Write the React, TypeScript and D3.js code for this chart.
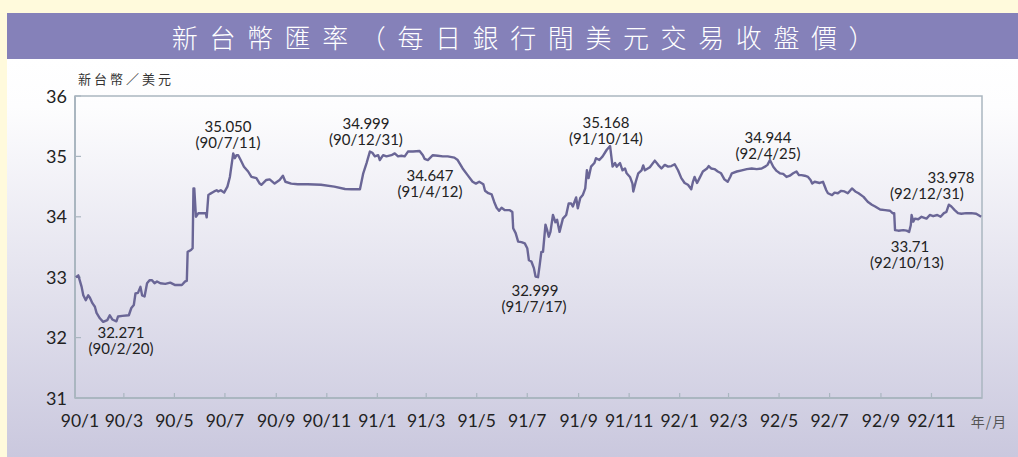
import React from 'react';
import * as d3 from 'd3';

const W = 1018;
const H = 457;

// ROC year 90 = 2001, 91 = 2002, 92 = 2003
const days90 = ["01-02","01-05","01-09","01-11","01-14","01-17","01-19","01-22","01-25","01-27","01-31","02-04","02-09","02-12","02-15","02-20","02-22","02-27","03-07","03-10","03-13","03-15","03-18","03-21","03-23","03-26","03-29","04-01","04-04","04-07","04-10","04-14","04-20","04-26","05-02","05-10","05-14","05-16","05-17","05-21","05-23","05-24","05-25","05-27","05-30","06-05","06-08","06-09","06-11","06-13","06-18","06-21","06-23","06-26","06-30","07-04","07-07","07-11","07-13","07-15","07-17","07-20","07-24","07-29","08-02","08-08","08-12","08-14","08-20","08-24","08-30","09-05","09-09","09-12","09-19","09-27","10-09","10-25","11-10","11-23","12-01","12-11","12-15","12-19","12-23","12-26","12-29"];
const rates90 = [33.00,33.03,32.84,32.70,32.62,32.70,32.66,32.57,32.51,32.41,32.32,32.26,32.29,32.37,32.30,32.27,32.35,32.36,32.37,32.49,32.54,32.73,32.74,32.84,32.70,32.68,32.90,32.95,32.95,32.90,32.93,32.90,32.89,32.91,32.87,32.87,32.93,32.94,33.42,33.45,33.48,34.47,34.47,34.00,34.06,34.06,34.06,33.99,34.36,34.38,34.42,34.44,34.42,34.44,34.40,34.50,34.66,35.05,34.97,35.02,35.02,34.94,34.83,34.75,34.66,34.64,34.55,34.53,34.61,34.62,34.55,34.61,34.68,34.58,34.55,34.54,34.54,34.53,34.50,34.46,34.455,34.455,34.72,34.89,35.08,35.06,35.00];

const days91 = ["01-02","01-04","01-08","01-12","01-18","01-22","01-26","01-30","02-03","02-07","02-13","02-21","02-25","02-27","03-03","03-09","03-15","03-21","03-27","04-04","04-08","04-14","04-20","04-26","04-30","05-04","05-09","05-11","05-15","05-19","05-22","05-25","05-28","05-31","06-04","06-10","06-13","06-14","06-17","06-20","06-24","06-28","07-01","07-03","07-06","07-09","07-11","07-14","07-16","07-18","07-20","07-23","07-25","07-27","07-29","08-01","08-04","08-06","08-09","08-13","08-17","08-20","08-23","08-25","08-29","08-31","09-03","09-06","09-09","09-11","09-13","09-16","09-20","09-22","09-26","09-30","10-05","10-09","10-12","10-15","10-17","10-21","10-24","10-27","10-29","11-02","11-05","11-06","11-09","11-12","11-16","11-18","11-20","11-26","12-02","12-06","12-10","12-14","12-18","12-22","12-26","12-30"];
const rates91 = [35.02,34.94,35.02,35.00,35.02,35.05,35.00,35.01,35.00,35.08,35.08,35.09,35.02,34.96,34.94,35.02,35.01,35.00,35.00,34.98,34.94,34.80,34.69,34.58,34.55,34.58,34.54,34.43,34.39,34.37,34.25,34.15,34.10,34.15,34.11,34.11,34.08,33.81,33.73,33.59,33.58,33.56,33.48,33.28,33.26,33.15,33.01,33.00,33.20,33.42,33.42,33.87,33.78,33.67,33.75,34.03,33.91,33.95,33.75,33.97,34.03,34.22,34.22,34.17,34.32,34.14,34.31,34.36,34.47,34.77,34.64,34.83,34.89,34.97,34.94,35.00,35.11,35.17,34.83,34.89,34.83,34.89,34.77,34.80,34.72,34.66,34.55,34.42,34.58,34.72,34.77,34.85,34.77,34.82,34.93,34.86,34.80,34.86,34.83,34.84,34.87,34.77];

const days92 = ["01-03","01-07","01-11","01-15","01-17","01-19","01-22","01-25","01-29","02-03","02-05","02-08","02-12","02-16","02-20","02-24","02-28","03-03","03-05","03-11","03-17","03-23","03-29","04-04","04-10","04-14","04-17","04-20","04-24","04-28","05-02","05-06","05-10","05-14","05-18","05-22","05-25","05-28","06-01","06-05","06-08","06-10","06-13","06-19","06-23","06-27","06-29","07-04","07-07","07-11","07-15","07-19","07-23","07-28","08-01","08-05","08-11","08-16","08-21","08-25","08-31","09-06","09-12","09-15","09-17","09-18","09-22","09-28","10-02","10-05","10-07","10-08","10-10","10-12","10-16","10-20","10-26","10-30","11-03","11-08","11-12","11-16","11-19","11-22","11-25","11-29","12-03","12-07","12-13","12-19","12-25","12-31"];
const rates92 = [34.64,34.56,34.53,34.455,34.58,34.66,34.56,34.64,34.75,34.80,34.84,34.80,34.79,34.75,34.72,34.62,34.58,34.66,34.72,34.75,34.77,34.79,34.80,34.79,34.80,34.83,34.86,34.94,34.83,34.76,34.72,34.71,34.66,34.68,34.72,34.75,34.69,34.69,34.68,34.66,34.61,34.55,34.58,34.56,34.58,34.44,34.39,34.36,34.40,34.39,34.43,34.42,34.39,34.47,34.42,34.39,34.33,34.25,34.20,34.17,34.12,34.11,34.10,34.06,34.06,33.78,33.77,33.78,33.77,33.75,33.86,34.03,33.92,33.97,33.96,34.00,33.97,34.03,34.01,34.03,34.00,34.06,34.08,34.20,34.17,34.11,34.06,34.05,34.06,34.06,34.05,34.00];

const xTickLabels = ["90/1","90/3","90/5","90/7","90/9","90/11","91/1","91/3","91/5","91/7","91/9","91/11","92/1","92/3","92/5","92/7","92/9","92/11"];
const yTicks = [31, 32, 33, 34, 35, 36];

const annValues = ["32.271","35.050","34.999","34.647","32.999","35.168","34.944","33.71","33.978"];
const annDates = ["(90/2/20)","(90/7/11)","(90/12/31)","(91/4/12)","(91/7/17)","(91/10/14)","(92/4/25)","(92/10/13)","(92/12/31)"];
// label layout: [x of value line, baseline of value line, x of date line]
const annLayout = [[121,338,121],[228,132,228],[366,129,366],[430,181,430],[535,296,534],[606,128,606],[768,143,768],[910,252,907],[951,183,927]];

const title = "新台幣匯率（每日銀行間美元交易收盤價）";
const yTitle = "新台幣／美元";
const xUnit = "年/月";

const parse = d3.timeParse("%Y-%m-%d");
const series = [
  ...days90.map((d, i) => ({ date: parse("2001-" + d)!, v: rates90[i] })),
  ...days91.map((d, i) => ({ date: parse("2002-" + d)!, v: rates91[i] })),
  ...days92.map((d, i) => ({ date: parse("2003-" + d)!, v: rates92[i] })),
];

const PL = 75, PR = 982, PT = 96, PB = 398;

export default function App() {
  const x = d3.scaleTime().domain([new Date(2001, 0, 1), new Date(2004, 0, 1)]).range([PL, PR]);
  const y = d3.scaleLinear().domain([31, 36]).range([PB, PT]);
  const line = d3.line<{ date: Date; v: number }>().x(d => x(d.date)).y(d => y(d.v));
  const tickDates = d3.timeMonth.every(2)!.range(new Date(2001, 0, 1), new Date(2004, 0, 1));
  const numFont = "Lato, 'DejaVu Sans', sans-serif";
  const cjkFont = "'Noto Sans CJK TC', 'Noto Sans CJK SC', sans-serif";
  const axisColor = "#aab6c0";

  return (
    <svg width={W} height={H} style={{ position: 'absolute', left: 0, top: 0 }}>
      <defs>
        <linearGradient id="bg" x1="0" y1="0" x2="0" y2="1">
          <stop offset="0" stopColor="#ffffff" />
          <stop offset="0.12" stopColor="#fdfdfe" />
          <stop offset="1" stopColor="#cac8de" />
        </linearGradient>
      </defs>
      <rect x={0} y={0} width={W} height={H} fill="#fffadc" />
      <rect x={7} y={59} width={W - 7} height={H - 59} fill="url(#bg)" />
      <rect x={7} y={13} width={W - 7} height={46} fill="#8581b9" />
      <text x={529} y={48} textAnchor="middle" fill="#ffffff" fontFamily={cjkFont} fontSize={26} fontWeight={300} letterSpacing={11.6}>{title}</text>

      <text x={78} y={84} fill="#333" fontFamily={cjkFont} fontSize={13} letterSpacing={3}>{yTitle}</text>

      {/* frame */}
      <rect x={PL} y={PT} width={PR - PL} height={PB - PT} fill="none" stroke={axisColor} strokeWidth={1.5} />
      <line x1={PL} y1={PT} x2={PL} y2={PB} stroke={axisColor} strokeWidth={2} />
      <line x1={PL} y1={PB} x2={PR} y2={PB} stroke={axisColor} strokeWidth={2} />

      {yTicks.map(t => (
        <g key={t}>
          <line x1={PL} x2={PL + 6} y1={y(t)} y2={y(t)} stroke={axisColor} strokeWidth={1.2} />
          <text x={67} y={y(t) + 6.5} textAnchor="end" fill="#222" fontFamily={numFont} fontSize={18}>{t}</text>
        </g>
      ))}

      {tickDates.map((d, i) => (
        <g key={i}>
          {i > 0 && <line x1={x(d)} x2={x(d)} y1={PB} y2={PB - 5} stroke={axisColor} strokeWidth={1.2} />}
          <text x={x(d) + (i === 0 ? 5 : 0)} y={427} textAnchor="middle" fill="#222" fontFamily={numFont} fontSize={17.5}>{xTickLabels[i]}</text>
        </g>
      ))}
      <text x={989} y={427} textAnchor="middle" fill="#555" fontFamily={cjkFont} fontSize={14} letterSpacing={1}>{xUnit}</text>

      <path d={line(series) || ''} fill="none" stroke="#6a6696" strokeWidth={2.4} strokeLinejoin="round" />

      {annValues.map((v, i) => (
        <text key={v} fill="#222" fontFamily={numFont} fontSize={15} textAnchor="middle">
          <tspan x={annLayout[i][0]} y={annLayout[i][1]}>{v}</tspan>
          <tspan x={annLayout[i][2]} y={annLayout[i][1] + 16}>{annDates[i]}</tspan>
        </text>
      ))}
    </svg>
  );
}
